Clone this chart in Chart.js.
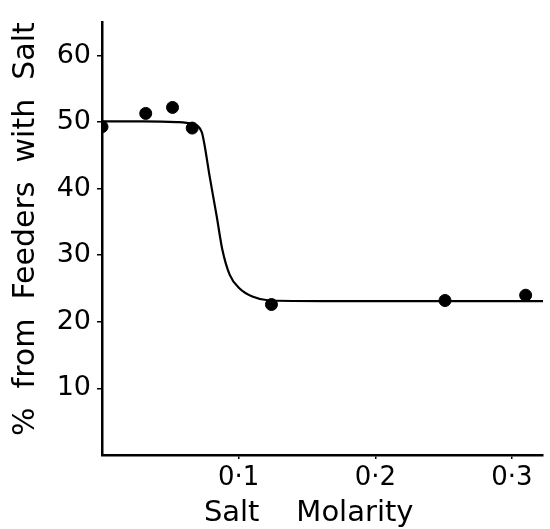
<!DOCTYPE html>
<html>
<head>
<meta charset="utf-8">
<script src="https://cdn.jsdelivr.net/npm/chart.js@4"></script>
<style>
    html, body { margin: 0; padding: 0; background: #fff; }
    #wrap { width: 550px; height: 529px; }
</style>
</head>
<body>
<div id="wrap"><canvas id="saltChart" width="550" height="529"></canvas></div>
<script>
// Observed points (salt molarity, % from feeders with salt)
const molarity = [0, 0.032, 0.0516, 0.066, 0.124, 0.251, 0.310];
const percentFeeders = [49.3, 51.3, 52.2, 49.1, 22.6, 23.2, 24.0];

// Hand-drawn fitted curve
const curveX = [0, 0.03, 0.0546, 0.066, 0.073, 0.075, 0.0788, 0.0839, 0.088, 0.0934, 0.1007, 0.110, 0.1227, 0.18, 0.25, 0.3227];
const curveY = [50.1, 50.1, 50.0, 49.7, 48.5, 46.6, 41.8, 35.9, 30.9, 27.1, 25.0, 23.8, 23.2, 23.1, 23.1, 23.1];

const xTicks = [0.1, 0.2, 0.3];
const yTicks = [10, 20, 30, 40, 50, 60];

// extra trailing spaces nudge the centred title left, like the original
const xTitle = 'Salt    Molarity   ';
const yTitle = '%  from  Feeders  with  Salt';

const FONT = 'DejaVu Sans';

const ctx = document.getElementById('saltChart').getContext('2d');
const chart = new Chart(ctx, {
    data: {
        datasets: [
            {
                type: 'line',
                label: 'fit',
                data: curveX.map((x, i) => ({ x: x, y: curveY[i] })),
                borderColor: '#000',
                borderWidth: 2.2,
                pointRadius: 0,
                cubicInterpolationMode: 'monotone',
            },
            {
                type: 'scatter',
                label: 'observed',
                data: molarity.map((x, i) => ({ x: x, y: percentFeeders[i] })),
                backgroundColor: '#000',
                borderColor: '#000',
                pointRadius: 6,
            },
        ],
    },
    options: {
        responsive: false,
        animation: false,
        layout: {
            padding: { top: 15, right: 7, left: 0, bottom: 0 },
        },
        plugins: {
            legend: { display: false },
            tooltip: { enabled: false },
        },
        scales: {
            x: {
                type: 'linear',
                min: 0,
                max: 0.3227,
                afterBuildTicks: (axis) => {
                    axis.ticks = xTicks.map(v => ({ value: v }));
                },
                afterFit: (axis) => {
                    axis.height = 74;
                },
                border: { color: '#000', width: 2.5 },
                grid: {
                    drawOnChartArea: false,
                    color: '#000',
                    tickLength: 4,
                    lineWidth: 1.5,
                },
                ticks: {
                    color: '#000',
                    padding: 4,
                    font: { family: FONT, size: 26 },
                    callback: (v) => String(v).replace('.', '·'),
                },
                title: {
                    display: true,
                    text: xTitle,
                    color: '#000',
                    font: { family: FONT, size: 29, lineHeight: 1.0 },
                    padding: { top: 0, bottom: 1 },
                },
            },
            y: {
                type: 'linear',
                min: 0,
                max: 65,
                afterBuildTicks: (axis) => {
                    axis.ticks = yTicks.map(v => ({ value: v }));
                },
                afterFit: (axis) => {
                    axis.width = 102;
                },
                border: { color: '#000', width: 2.5 },
                grid: {
                    drawOnChartArea: false,
                    color: '#000',
                    tickLength: 5,
                    lineWidth: 1.5,
                },
                ticks: {
                    color: '#000',
                    padding: 6,
                    font: { family: FONT, size: 27 },
                },
                title: {
                    display: true,
                    text: yTitle,
                    align: 'end',
                    color: '#000',
                    font: { family: FONT, size: 30 },
                    padding: { top: 8, bottom: 0 },
                },
            },
        },
    },
});
</script>
</body>
</html>
